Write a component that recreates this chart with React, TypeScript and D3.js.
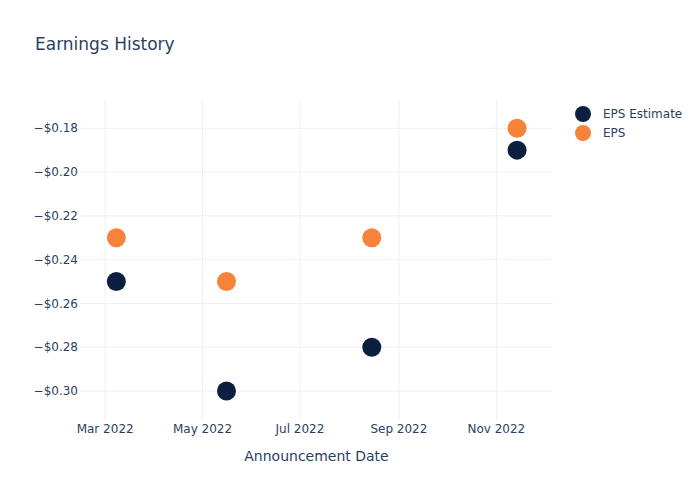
import React from 'react';
import * as d3 from 'd3';

// Earnings data
const dates = ['2022-03-08', '2022-05-16', '2022-08-15', '2022-11-14'];
const epsEstimate = [-0.25, -0.30, -0.28, -0.19];
const epsActual = [-0.23, -0.25, -0.23, -0.18];
const yTicks = [-0.30, -0.28, -0.26, -0.24, -0.22, -0.20, -0.18];
const xTicks = ['2022-03-01', '2022-05-01', '2022-07-01', '2022-09-01', '2022-11-01'];

const COLORS = {
  estimate: '#0d1f3f',
  eps: '#f7823a',
  text: '#2a3f5f',
  grid: '#ebf0f8'
};

const parse = d3.utcParse('%Y-%m-%d');
const fmtDate = d3.utcFormat('%b %Y');
const fmtMoney = (v: number) => `${v < 0 ? '\u2212' : ''}$${Math.abs(v).toFixed(2)}`;

export default function App() {
  const width = 700;
  const height = 500;
  const margin = { top: 100, right: 147, bottom: 80, left: 80 };
  const innerW = width - margin.left - margin.right;
  const innerH = height - margin.top - margin.bottom;

  const x = d3.scaleUtc()
    .domain([new Date(Date.UTC(2022, 1, 13, 6)), new Date(Date.UTC(2022, 11, 6, 12))])
    .range([0, innerW]);

  const y = d3.scaleLinear()
    .domain([-0.3132, -0.1671])
    .range([innerH, 0]);

  const series = [
    { name: 'EPS Estimate', values: epsEstimate, color: COLORS.estimate },
    { name: 'EPS', values: epsActual, color: COLORS.eps }
  ];

  const font = '"DejaVu Sans", Verdana, sans-serif';

  return (
    <svg width={width} height={height} style={{ position: 'absolute', left: 0, top: 0, fontFamily: font }}>
      <rect width={width} height={height} fill="#fff" />
      <text x={35} y={50} fontSize={17} fill={COLORS.text}>Earnings History</text>

      <g transform={`translate(${margin.left},${margin.top})`}>
        {/* grid */}
        {xTicks.map(t => {
          const d = parse(t)!;
          return (
            <g key={t}>
              <line x1={x(d)} x2={x(d)} y1={0} y2={innerH} stroke={COLORS.grid} strokeWidth={1} />
              <text x={x(d)} y={innerH + 13} textAnchor="middle" fontSize={12} fill={COLORS.text}>{fmtDate(d)}</text>
            </g>
          );
        })}
        {yTicks.map(t => (
          <g key={t}>
            <line x1={0} x2={innerW} y1={y(t)} y2={y(t)} stroke={COLORS.grid} strokeWidth={1} />
            <text x={-2} y={y(t)} dy="0.35em" textAnchor="end" fontSize={12} fill={COLORS.text}>{fmtMoney(t)}</text>
          </g>
        ))}

        {/* points */}
        {series.map(s => (
          <g key={s.name}>
            {s.values.map((v, i) => (
              <circle key={i} cx={x(parse(dates[i])!)} cy={y(v)} r={9.5} fill={s.color} />
            ))}
          </g>
        ))}

        <text x={innerW / 2} y={innerH + 41} textAnchor="middle" fontSize={14} fill={COLORS.text}>Announcement Date</text>
      </g>

      {/* legend */}
      <g transform="translate(583,114)">
        {series.map((s, i) => (
          <g key={s.name} transform={`translate(0,${i * 19})`}>
            <circle r={8} fill={s.color} />
            <text x={20} dy="0.35em" fontSize={12} fill={COLORS.text}>{s.name}</text>
          </g>
        ))}
      </g>
    </svg>
  );
}
